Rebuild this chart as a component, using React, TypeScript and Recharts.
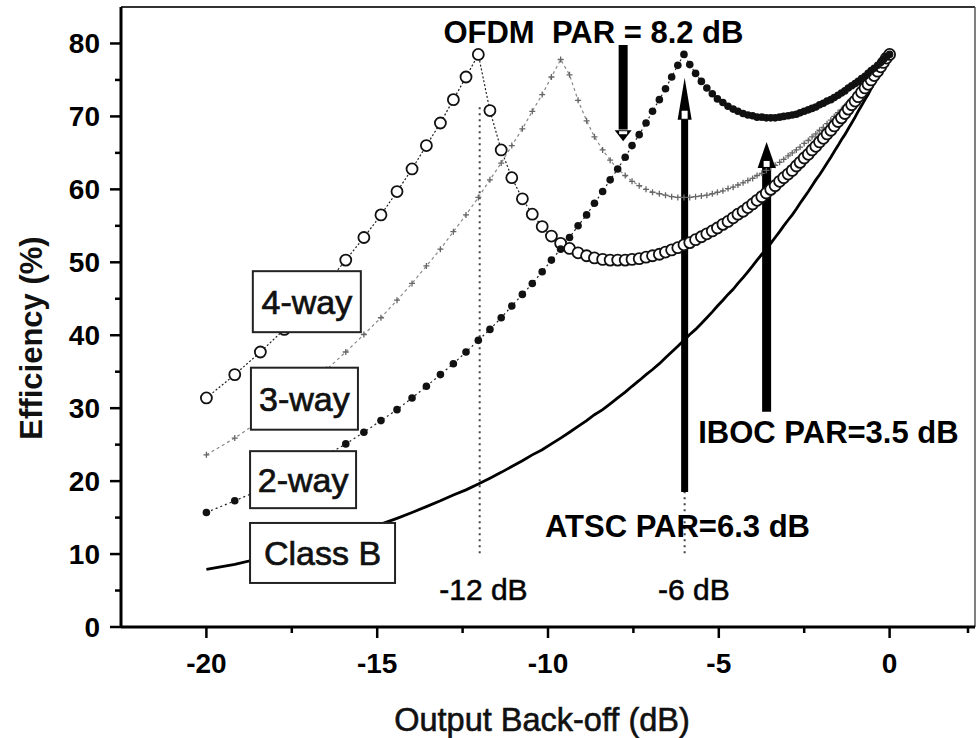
import { LineChart, Line, XAxis, YAxis, ReferenceLine, ReferenceDot } from "recharts"

const FONT = "'Liberation Sans', Arial, Helvetica, sans-serif"

// output back-off (dB), one point per 0.01 step of normalised output voltage
const backoff = [
  -20.0, -19.17, -18.42, -17.72, -17.08, -16.48, -15.92, -15.39, -14.89, -14.42,
  -13.98, -13.56, -13.15, -12.77, -12.4, -12.04, -11.7, -11.37, -11.06, -10.75,
  -10.46, -10.17, -9.9, -9.63, -9.37, -9.12, -8.87, -8.64, -8.4, -8.18,
  -7.96, -7.74, -7.54, -7.33, -7.13, -6.94, -6.74, -6.56, -6.38, -6.2,
  -6.02, -5.85, -5.68, -5.51, -5.35, -5.19, -5.04, -4.88, -4.73, -4.58,
  -4.44, -4.29, -4.15, -4.01, -3.88, -3.74, -3.61, -3.48, -3.35, -3.22,
  -3.1, -2.97, -2.85, -2.73, -2.62, -2.5, -2.38, -2.27, -2.16, -2.05,
  -1.94, -1.83, -1.72, -1.62, -1.51, -1.41, -1.31, -1.21, -1.11, -1.01,
  -0.92, -0.82, -0.72, -0.63, -0.54, -0.45, -0.35, -0.26, -0.18, -0.09,
  0,
]

const classB = [
  7.9, 8.6, 9.4, 10.2, 11.0, 11.8, 12.6, 13.4, 14.1, 14.9,
  15.7, 16.5, 17.3, 18.1, 18.8, 19.6, 20.4, 21.2, 22.0, 22.8,
  23.6, 24.3, 25.1, 25.9, 26.7, 27.5, 28.3, 29.1, 29.8, 30.6,
  31.4, 32.2, 33.0, 33.8, 34.6, 35.3, 36.1, 36.9, 37.7, 38.5,
  39.3, 40.1, 40.8, 41.6, 42.4, 43.2, 44.0, 44.8, 45.6, 46.3,
  47.1, 47.9, 48.7, 49.5, 50.3, 51.1, 51.8, 52.6, 53.4, 54.2,
  55.0, 55.8, 56.5, 57.3, 58.1, 58.9, 59.7, 60.5, 61.3, 62.0,
  62.8, 63.6, 64.4, 65.2, 66.0, 66.8, 67.5, 68.3, 69.1, 69.9,
  70.7, 71.5, 72.3, 73.0, 73.8, 74.6, 75.4, 76.2, 77.0, 77.8,
  78.5,
]

const twoWay = [
  15.7, 17.3, 18.8, 20.4, 22.0, 23.6, 25.1, 26.7, 28.3, 29.8,
  31.4, 33.0, 34.6, 36.1, 37.7, 39.3, 40.8, 42.4, 44.0, 45.6,
  47.1, 48.7, 50.3, 51.8, 53.4, 55.0, 56.5, 58.1, 59.7, 61.3,
  62.8, 64.4, 66.0, 67.5, 69.1, 70.7, 72.3, 73.8, 75.4, 77.0,
  78.5, 77.1, 75.9, 74.8, 73.9, 73.1, 72.4, 71.9, 71.4, 71.0,
  70.7, 70.4, 70.2, 70.1, 69.9, 69.9, 69.8, 69.8, 69.8, 69.9,
  70.0, 70.1, 70.2, 70.3, 70.5, 70.7, 70.9, 71.1, 71.3, 71.6,
  71.8, 72.1, 72.3, 72.6, 72.9, 73.2, 73.5, 73.9, 74.2, 74.5,
  74.8, 75.2, 75.5, 75.9, 76.3, 76.6, 77.0, 77.4, 77.8, 78.2,
  78.5,
]

const threeWay = [
  23.6, 25.9, 28.3, 30.6, 33.0, 35.3, 37.7, 40.1, 42.4, 44.8,
  47.1, 49.5, 51.8, 54.2, 56.5, 58.9, 61.3, 63.6, 66.0, 68.3,
  70.7, 73.0, 75.4, 77.8, 75.7, 72.2, 69.4, 67.2, 65.4, 64.0,
  62.8, 61.9, 61.1, 60.5, 60.0, 59.6, 59.4, 59.2, 59.0, 58.9,
  58.9, 58.9, 59.0, 59.1, 59.2, 59.4, 59.6, 59.8, 60.1, 60.3,
  60.6, 60.9, 61.2, 61.5, 61.9, 62.2, 62.6, 63.0, 63.3, 63.7,
  64.1, 64.6, 65.0, 65.4, 65.8, 66.3, 66.7, 67.2, 67.6, 68.1,
  68.5, 69.0, 69.5, 70.0, 70.5, 70.9, 71.4, 71.9, 72.4, 72.9,
  73.4, 73.9, 74.4, 74.9, 75.4, 75.9, 76.5, 77.0, 77.5, 78.0,
  78.5,
]

const fourWay = [
  31.4, 34.6, 37.7, 40.8, 44.0, 47.1, 50.3, 53.4, 56.5, 59.7,
  62.8, 66.0, 69.1, 72.3, 75.4, 78.5, 70.8, 65.4, 61.6, 58.7,
  56.6, 54.9, 53.6, 52.6, 51.9, 51.3, 50.9, 50.6, 50.4, 50.3,
  50.3, 50.3, 50.4, 50.5, 50.7, 50.9, 51.1, 51.4, 51.7, 52.0,
  52.4, 52.7, 53.1, 53.5, 53.9, 54.3, 54.7, 55.2, 55.6, 56.1,
  56.6, 57.0, 57.5, 58.0, 58.5, 59.0, 59.5, 60.0, 60.5, 61.1,
  61.6, 62.1, 62.6, 63.2, 63.7, 64.3, 64.8, 65.4, 65.9, 66.5,
  67.0, 67.6, 68.1, 68.7, 69.3, 69.8, 70.4, 71.0, 71.6, 72.1,
  72.7, 73.3, 73.9, 74.4, 75.0, 75.6, 76.2, 76.8, 77.4, 78.0,
  78.5,
]

const xTicks = [-20, -17.5, -15, -12.5, -10, -7.5, -5, -2.5, 0, 2.5]
const yTicks = [0, 5, 10, 15, 20, 25, 30, 35, 40, 45, 50, 55, 60, 65, 70, 75, 80]

const data = backoff.map((x, i) => ({
  x,
  classB: classB[i],
  twoWay: twoWay[i],
  threeWay: threeWay[i],
  fourWay: fourWay[i],
}))

// label boxes sitting at the left end of each curve
const boxes = [
  { text: "4-way", x: -17.06, y: 44.6, w: 108, h: 61 },
  { text: "3-way", x: -17.13, y: 31.3, w: 107, h: 62 },
  { text: "2-way", x: -17.17, y: 20.2, w: 106, h: 57 },
  { text: "Class B", x: -16.6, y: 10.15, w: 145, h: 60 },
]

const notes = [
  { text: "OFDM  PAR = 8.2 dB", x: -8.67, y: 80.07, bold: true },
  { text: "IBOC PAR=3.5 dB", x: -1.79, y: 25.23, bold: true },
  { text: "ATSC PAR=6.3 dB", x: -6.21, y: 12.34, bold: true },
  { text: "-12 dB", x: -11.89, y: 3.7, bold: false },
  { text: "-6 dB", x: -5.73, y: 3.7, bold: false },
]

function XTick({ x, y, payload }: any) {
  const major = payload.value % 5 === 0
  return (
    <g>
      <line x1={x} x2={x} y1={y} y2={y + (major ? 11 : 6)} stroke="#000" strokeWidth={2.5} />
      {major && (
        <text x={x} y={y + 46} textAnchor="middle" fontSize={28} fontWeight="bold" fontFamily={FONT} fill="#000">
          {payload.value}
        </text>
      )}
    </g>
  )
}

function YTick({ x, y, payload }: any) {
  const major = payload.value % 10 === 0
  return (
    <g>
      <line x1={x - (major ? 11 : 6)} x2={x} y1={y} y2={y} stroke="#000" strokeWidth={2.5} />
      {major && (
        <text x={x - 21} y={y + 10} textAnchor="end" fontSize={28} fontWeight="bold" fontFamily={FONT} fill="#000">
          {payload.value}
        </text>
      )}
    </g>
  )
}

const plusDot = (p: any) => (
  <path
    key={`p${p.index}`}
    d={`M${p.cx - 3},${p.cy}h6M${p.cx},${p.cy - 3}v6`}
    stroke="#666"
    strokeWidth={1.3}
    fill="none"
  />
)

const boxShape = (b: any) => (p: any) => (
  <g>
    <rect x={p.cx - b.w / 2} y={p.cy - b.h / 2} width={b.w} height={b.h} fill="#fff" stroke="#222" strokeWidth={2} />
    <text
      x={p.cx}
      y={p.cy + 12}
      textAnchor="middle"
      fontSize={34}
      fontFamily={FONT}
      fill="#111"
      stroke="#111"
      strokeWidth={0.7}
    >
      {b.text}
    </text>
  </g>
)

const noteShape = (n: any) => (p: any) => (
  <text
    x={p.cx}
    y={p.cy}
    textAnchor="middle"
    fontSize={n.bold ? 31 : 30}
    fontWeight={n.bold ? "bold" : "normal"}
    fontFamily={FONT}
    fill="#000"
    stroke={n.bold ? "none" : "#111"}
    strokeWidth={0.6}
    style={{ whiteSpace: "pre" }}
  >
    {n.text}
  </text>
)

// arrow heads: tip at (cx, cy)
const upHead = (w: number, h: number, nw: number, nh: number) => (p: any) => (
  <g>
    <polygon points={`${p.cx},${p.cy} ${p.cx - w / 2},${p.cy + h} ${p.cx + w / 2},${p.cy + h}`} fill="#000" />
    <rect x={p.cx - nw / 2} y={p.cy + h - nh - 1} width={nw} height={nh} fill="#fff" />
  </g>
)

const downHead = (w: number, h: number) => (p: any) => (
  <g>
    <polygon points={`${p.cx},${p.cy} ${p.cx - w / 2},${p.cy - h} ${p.cx + w / 2},${p.cy - h}`} fill="#000" />
    <rect x={p.cx - 4} y={p.cy - h + 1} width={8} height={3} fill="#fff" />
  </g>
)

export default function App() {
  return (
    <div style={{ position: "absolute", left: 0, top: 0, width: 978, height: 738, background: "#fff" }}>
      <LineChart width={978} height={738} data={data} margin={{ top: 7, right: 3, left: 0, bottom: 0 }}>
        <XAxis
          dataKey="x"
          type="number"
          domain={[-22.5, 2.5]}
          ticks={xTicks}
          allowDataOverflow
          height={111}
          tickSize={0}
          tickMargin={0}
          tick={<XTick />}
          axisLine={{ stroke: "#000", strokeWidth: 3 }}
        />
        <YAxis
          type="number"
          domain={[0, 85]}
          ticks={yTicks}
          allowDataOverflow
          width={121}
          tickSize={0}
          tickMargin={0}
          tick={<YTick />}
          axisLine={{ stroke: "#000", strokeWidth: 3 }}
        />
        <ReferenceLine y={85} stroke="#333" strokeWidth={2} />
        <ReferenceLine x={2.5} stroke="#555" strokeWidth={1.5} />
        <ReferenceLine segment={[{ x: -12, y: 10.1 }, { x: -12, y: 71.8 }]} stroke="#444" strokeWidth={2} strokeDasharray="2 4" />
        <ReferenceLine segment={[{ x: -6, y: 10.1 }, { x: -6, y: 20 }]} stroke="#444" strokeWidth={2} strokeDasharray="2 4" />

        <Line dataKey="classB" stroke="#000" strokeWidth={2.8} dot={false} isAnimationActive={false} />
        <Line dataKey="threeWay" stroke="#888" strokeWidth={1.2} strokeDasharray="3 3" dot={plusDot} isAnimationActive={false} />
        <Line
          dataKey="fourWay"
          stroke="#222"
          strokeWidth={1.2}
          strokeDasharray="2 2"
          dot={{ r: 5.5, fill: "#fff", stroke: "#111", strokeWidth: 1.8, strokeDasharray: "0" }}
          isAnimationActive={false}
        />
        <Line
          dataKey="twoWay"
          stroke="#222"
          strokeWidth={1.2}
          strokeDasharray="2 3"
          dot={{ r: 3.8, fill: "#111", stroke: "none", strokeDasharray: "0" }}
          isAnimationActive={false}
        />

        {/* arrows */}
        <ReferenceLine segment={[{ x: -7.8, y: 79.8 }, { x: -7.8, y: 68.2 }]} stroke="#000" strokeWidth={9} />
        <ReferenceDot x={-7.8} y={66.6} shape={downHead(17, 11)} />
        <ReferenceLine segment={[{ x: -6, y: 18.5 }, { x: -6, y: 69.6 }]} stroke="#000" strokeWidth={7} />
        <ReferenceDot x={-6} y={75.3} shape={upHead(14, 42, 6, 8)} />
        <ReferenceLine segment={[{ x: -3.6, y: 29.5 }, { x: -3.6, y: 63.0 }]} stroke="#000" strokeWidth={9} />
        <ReferenceDot x={-3.6} y={66.5} shape={upHead(18, 26, 6, 6)} />

        {boxes.map((b) => (
          <ReferenceDot key={b.text} x={b.x} y={b.y} shape={boxShape(b)} />
        ))}
        {notes.map((n) => (
          <ReferenceDot key={n.text} x={n.x} y={n.y} shape={noteShape(n)} />
        ))}

        <text x={542} y={731} textAnchor="middle" fontSize={32.5} fontFamily={FONT} fill="#111" stroke="#111" strokeWidth={0.6}>
          Output Back-off (dB)
        </text>
        <text
          x={42}
          y={338}
          transform="rotate(-90, 42, 338)"
          textAnchor="middle"
          fontSize={31}
          fontWeight="bold"
          fontFamily={FONT}
          fill="#111"
        >
          Efficiency (%)
        </text>
      </LineChart>
    </div>
  )
}
